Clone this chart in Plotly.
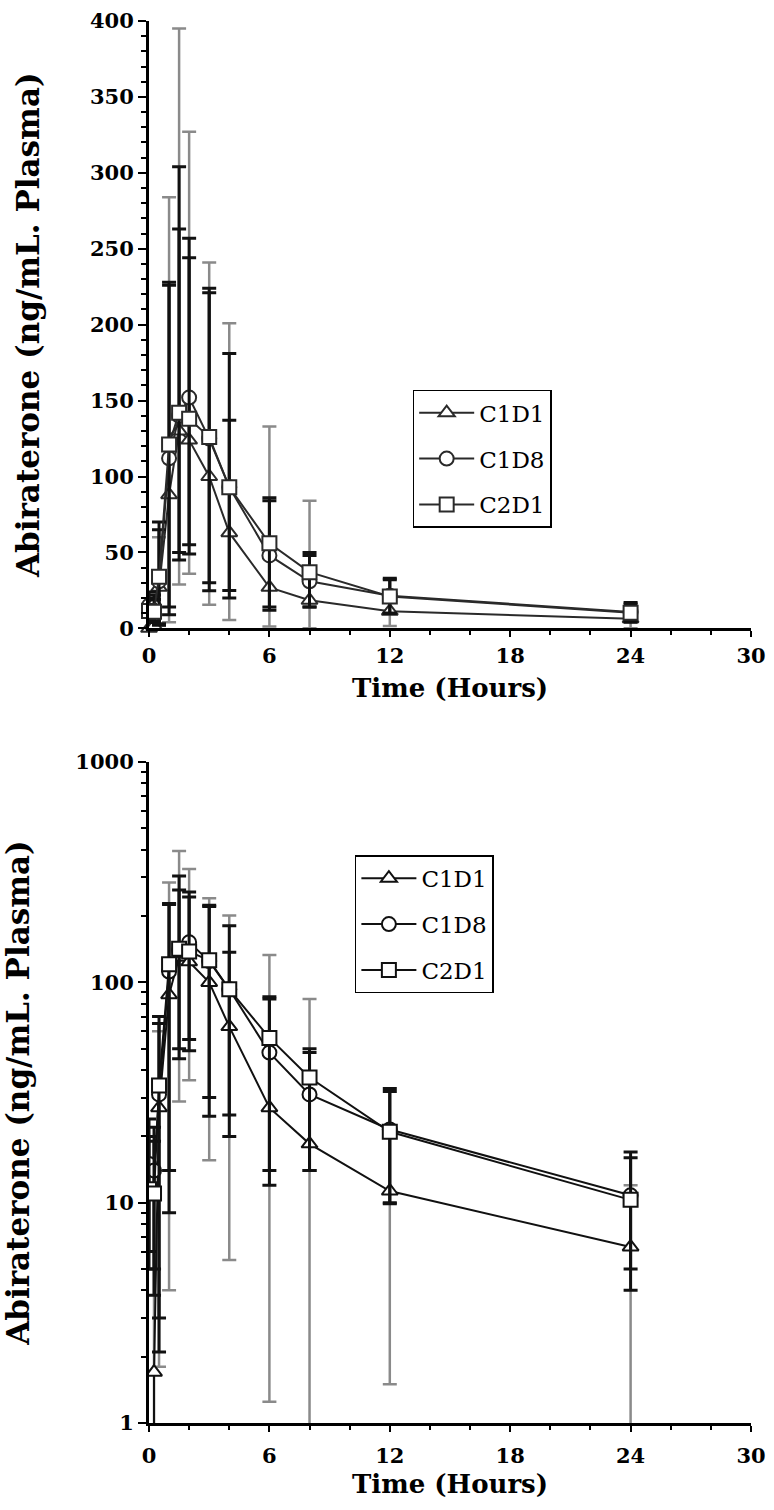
import plotly.graph_objects as go

# ---- data ----
time_h = [0, 0.25, 0.5, 1, 1.5, 2, 3, 4, 6, 8, 12, 24]

c1d1_mean = [0, 1.7, 27, 88, 130, 124, 100, 63, 27, 18.5, 11.3, 6.3]
c1d8_mean = [15, 14, 31, 112, 140, 152, 125, 93, 48, 31, 21.5, 10.8]
c2d1_mean = [11.5, 11, 34, 121, 142, 138, 126, 93, 56, 37, 21, 10.3]

c1d1_upper = [4, 5, 60, 284, 395, 327, 241, 201, 133, 84, 21, 12]
c1d1_lower = [0, 0, 1.8, 4, 28.8, 36, 15.6, 5.5, 1.25, 0, 1.5, 0]
c1d8_upper = [24, 22, 65, 226, 263, 244, 221, 181, 84, 48, 33, 17]
c1d8_lower = [6, 5, 2.1, 9, 50, 49, 24.7, 20, 12, 14, 10, 5]
c2d1_upper = [20, 19, 70, 228, 304, 257, 224, 137, 86, 50, 32, 16]
c2d1_lower = [5, 3.8, 3, 14, 45, 55, 30, 25, 14, 14, 9.9, 4]

x_ticks = [0, 6, 12, 18, 24, 30]
log_ticks = [1, 10, 100, 1000]
log_minor_ticks = [2, 3, 4, 5, 6, 7, 8, 9,
                   20, 30, 40, 50, 60, 70, 80, 90,
                   200, 300, 400, 500, 600, 700, 800, 900]

FONT = "DejaVu Serif"

series = [
    ("C1D1", c1d1_mean, c1d1_upper, c1d1_lower, "triangle-up", "#8a8a8a", 2.5),
    ("C1D8", c1d8_mean, c1d8_upper, c1d8_lower, "circle", "#111111", 3),
    ("C2D1", c2d1_mean, c2d1_upper, c2d1_lower, "square", "#111111", 3),
]

fig = go.Figure()

panels = [
    ("x", "y", "legend", False, "#2a2a2a"),
    ("x2", "y2", "legend2", True, "#111111"),
]

for xa, ya, leg, is_log, lc in panels:
    for name, mean, up, lo, sym, ecol, eth in series:
        plus = [u - m for u, m in zip(up, mean)]
        minus = [m - max(l, 0) for m, l in zip(mean, lo)]
        fig.add_trace(go.Scatter(
            x=time_h, y=mean, mode="lines+markers", name=name,
            xaxis=xa, yaxis=ya, legend=leg, legendgroup=leg + name,
            line=dict(color=lc, width=2),
            marker=dict(symbol=sym, size=14, color="white",
                        line=dict(color=lc, width=2)),
            error_y=dict(type="data", symmetric=False, array=plus,
                         arrayminus=minus, color=ecol, thickness=eth, width=7),
            cliponaxis=is_log,
        ))

tickfont = dict(family=FONT, size=21, color="black", weight="bold")
titlefont = dict(family=FONT, size=26, color="black", weight="bold")
ytitlefont = dict(family=FONT, size=31, color="black", weight="bold")

common_x = dict(
    range=[0, 30], tickvals=x_ticks, ticktext=[str(v) for v in x_ticks],
    ticks="outside", ticklen=6, tickwidth=2, tickcolor="black",
    minor=dict(dtick=2, ticks="outside", ticklen=4, tickwidth=2, tickcolor="black", showgrid=False),
    showline=True, linewidth=3, linecolor="black",
    showgrid=False, zeroline=False, tickfont=tickfont,
    ticklabeloverflow="allow",
)

common_y = dict(
    ticks="outside", ticklen=8, tickwidth=2, tickcolor="black",
    showline=True, linewidth=3, linecolor="black",
    showgrid=False, zeroline=False, tickfont=tickfont,
    ticklabeloverflow="allow",
)

legend_style = dict(
    xanchor="left", yanchor="top",
    bgcolor="white", bordercolor="black", borderwidth=1.5,
    font=dict(family=FONT, size=23, color="black"),
    itemwidth=55, tracegroupgap=13,
)

fig.update_layout(
    width=774, height=1510,
    margin=dict(l=149, r=18, t=8, b=87),
    paper_bgcolor="white", plot_bgcolor="white",
    xaxis=dict(common_x, domain=[0, 1], anchor="y"),
    yaxis=dict(common_y, domain=[0.5668, 1], anchor="x", range=[0, 400], dtick=50,
               minor=dict(dtick=10, ticks="outside", ticklen=5, tickwidth=2, tickcolor="black", showgrid=False),
               title=dict(text="Abiraterone (ng/mL. Plasma)", font=ytitlefont, standoff=42)),
    xaxis2=dict(common_x, domain=[0, 1], anchor="y2", ticklabelstandoff=6,
                title=dict(text="Time (Hours)", font=titlefont, standoff=8)),
    yaxis2=dict(common_y, domain=[0, 0.4714], anchor="x2", type="log", range=[0, 3],
                tickvals=log_ticks, ticktext=[str(v) for v in log_ticks],
                minor=dict(tickvals=log_minor_ticks, ticks="outside", ticklen=5, tickwidth=2,
                           tickcolor="black", showgrid=False),
                title=dict(text="Abiraterone (ng/mL. Plasma)", font=ytitlefont, standoff=42)),
    legend=dict(legend_style, x=0.438, y=0.737),
    legend2=dict(legend_style, x=0.342, y=0.405),
    showlegend=True,
    annotations=[dict(text="<b>Time (Hours)</b>", xref="paper", yref="paper",
                      x=0.5, y=0.5244, xanchor="center", yanchor="middle",
                      showarrow=False, font=titlefont)],
)

fig.write_html(
    "out.html",
    config={"displayModeBar": False},
    post_script="document.body.style.margin='0';"
                "document.documentElement.style.overflow='hidden';",
)
